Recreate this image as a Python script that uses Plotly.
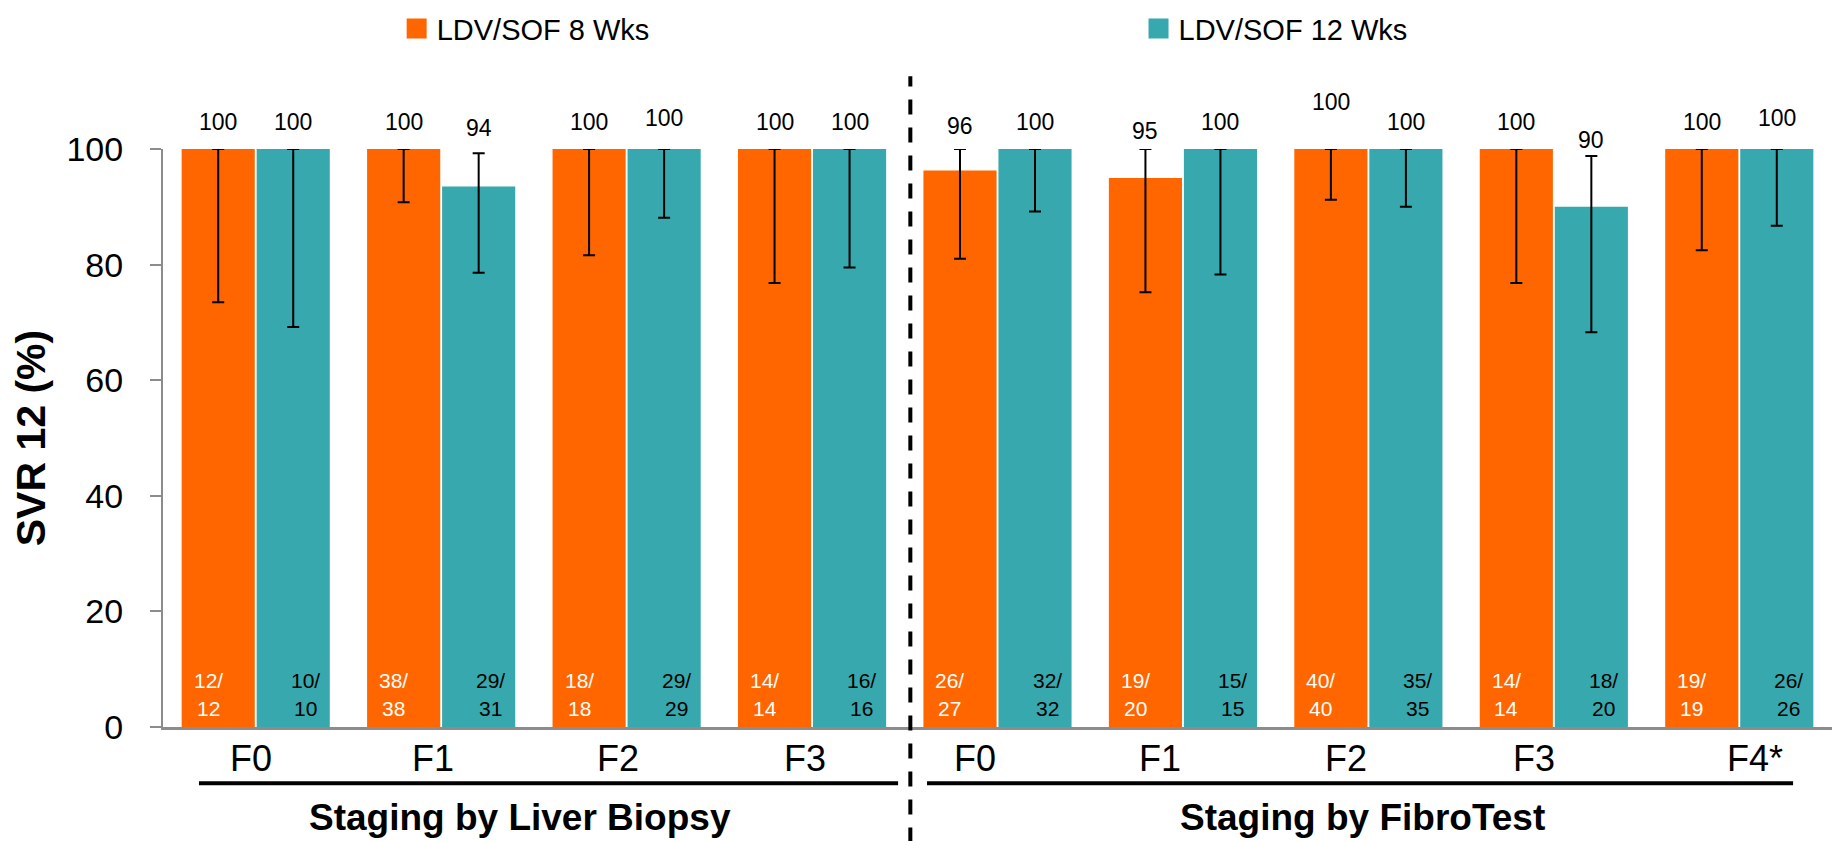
import plotly.graph_objects as go

# ---------------- data ----------------
categories = ["F0", "F1", "F2", "F3", "F0", "F1", "F2", "F3", "F4*"]
group_names = ["Staging by Liver Biopsy", "Staging by FibroTest"]
series_names = ["LDV/SOF 8 Wks", "LDV/SOF 12 Wks"]

svr_8wk = [100, 100, 100, 100, 96.3, 95.0, 100, 100, 100]
svr_12wk = [100, 93.5, 100, 100, 100, 100, 100, 90.0, 100]

value_text_8wk = ["100", "100", "100", "100", "96", "95", "100", "100", "100"]
value_text_12wk = ["100", "94", "100", "100", "100", "100", "100", "90", "100"]

ci_low_8wk = [73.5, 90.8, 81.6, 76.8, 81.0, 75.2, 91.2, 76.8, 82.5]
ci_high_8wk = [100, 100, 100, 100, 100, 100, 100, 100, 100]
ci_low_12wk = [69.2, 78.6, 88.1, 79.5, 89.2, 78.3, 90.0, 68.3, 86.7]
ci_high_12wk = [100, 99.25, 100, 100, 100, 100, 100, 98.8, 100]

n_8wk = [("12/", "12"), ("38/", "38"), ("18/", "18"), ("14/", "14"), ("26/", "27"),
         ("19/", "20"), ("40/", "40"), ("14/", "14"), ("19/", "19")]
n_12wk = [("10/", "10"), ("29/", "31"), ("29/", "29"), ("16/", "16"), ("32/", "32"),
          ("15/", "15"), ("35/", "35"), ("18/", "20"), ("26/", "26")]

y_ticks = [0, 20, 40, 60, 80, 100]

# ---------------- styling / placement (not data) ----------------
ORANGE = "#FF6600"
TEAL = "#37A8AD"
AXIS_GREY = "#8C8C8C"
REG = "Liberation Sans, Arial, sans-serif"

label_lift_8wk = [27, 27, 27, 27, 23, 18, 47, 27, 27]      # px above CI top
label_lift_12wk = [27, 25, 31, 27, 27, 27, 27, 16, 31]
cat_label_shift = [-5, -8, -9, -7, -23, -23, -22, -20, 16]  # px

x = list(range(len(categories)))

fig = go.Figure()

def err(vals, lo, hi):
    return dict(type="data", symmetric=False,
                array=[h - v for v, h in zip(vals, hi)],
                arrayminus=[v - l for v, l in zip(vals, lo)],
                color="black", thickness=2, width=6)

fig.add_trace(go.Bar(x=x, y=svr_8wk, name=series_names[0], marker_color=ORANGE,
                     marker_line_width=0, error_y=err(svr_8wk, ci_low_8wk, ci_high_8wk),
                     showlegend=False, legendgroup="a", cliponaxis=False, hoverinfo="y"))
fig.add_trace(go.Bar(x=x, y=svr_12wk, name=series_names[1], marker_color=TEAL,
                     marker_line_width=0, error_y=err(svr_12wk, ci_low_12wk, ci_high_12wk),
                     showlegend=False, legendgroup="b", cliponaxis=False, hoverinfo="y"))
# legend entries (square swatches), one legend box per series
for nm, col, grp, lg in [(series_names[0], ORANGE, "a", "legend"),
                         (series_names[1], TEAL, "b", "legend2")]:
    fig.add_trace(go.Scatter(x=[None], y=[None], mode="markers", name=nm, legendgroup=grp,
                             legend=lg,
                             marker=dict(symbol="square", size=16, color=col,
                                         line=dict(color=col, width=4))))

ann = []
bar_w_cat = 0.809 / 2  # width of one bar in category units
for i in range(len(categories)):
    xo = i - bar_w_cat / 2
    xt = i + bar_w_cat / 2
    ann.append(dict(x=xo, y=ci_high_8wk[i], text=value_text_8wk[i], showarrow=False,
                    yshift=label_lift_8wk[i], yanchor="middle",
                    font=dict(family=REG, size=23, color="black")))
    ann.append(dict(x=xt, y=ci_high_12wk[i], text=value_text_12wk[i], showarrow=False,
                    yshift=label_lift_12wk[i], yanchor="middle",
                    font=dict(family=REG, size=23, color="black")))
    # n/N labels inside bars
    ann.append(dict(x=xo, y=8.0, text=n_8wk[i][0], showarrow=False, xshift=-10, yanchor="middle",
                    font=dict(family=REG, size=21, color="white")))
    ann.append(dict(x=xo, y=3.2, text=n_8wk[i][1], showarrow=False, xshift=-10, yanchor="middle",
                    font=dict(family=REG, size=21, color="white")))
    ann.append(dict(x=xt, y=8.0, text=n_12wk[i][0], showarrow=False, xshift=12, yanchor="middle",
                    font=dict(family=REG, size=21, color="black")))
    ann.append(dict(x=xt, y=3.2, text=n_12wk[i][1], showarrow=False, xshift=12, yanchor="middle",
                    font=dict(family=REG, size=21, color="black")))
    # category labels
    ann.append(dict(x=i, y=-0.054, yref="paper", text=categories[i], showarrow=False,
                    xshift=cat_label_shift[i], yanchor="middle",
                    font=dict(family=REG, size=36, color="black")))

# group labels
ann.append(dict(x=1.425, y=-0.156, yref="paper", text="<b>%s</b>" % group_names[0],
                showarrow=False, yanchor="middle", font=dict(family=REG, size=37, color="black")))
ann.append(dict(x=5.967, y=-0.156, yref="paper", text="<b>%s</b>" % group_names[1],
                showarrow=False, yanchor="middle", font=dict(family=REG, size=37, color="black")))

shapes = [
    dict(type="line", xref="x", yref="paper", x0=3.53, x1=3.53, y0=-0.2, y1=1.126,
         line=dict(color="black", width=4, dash="15px,13px")),
    dict(type="line", xref="x", yref="paper", x0=-0.306, x1=3.464, y0=-0.0972, y1=-0.0972,
         line=dict(color="black", width=4)),
    dict(type="line", xref="x", yref="paper", x0=3.62, x1=8.29, y0=-0.0972, y1=-0.0972,
         line=dict(color="black", width=4)),
]

legend_style = dict(orientation="h", xanchor="left", yanchor="top", y=1.2525,
                    font=dict(family=REG, size=29, color="black"),
                    bgcolor="rgba(0,0,0,0)")

fig.update_layout(
    width=1835, height=841,
    margin=dict(l=163, r=3, t=149, b=114),
    paper_bgcolor="white", plot_bgcolor="white",
    barmode="group", bargap=0.191, bargroupgap=0.025,
    annotations=ann, shapes=shapes,
    legend=dict(x=0.140, **legend_style),
    legend2=dict(x=0.5845, **legend_style),
    xaxis=dict(range=[-0.5, 8.5], tickvals=x, showticklabels=False, ticks="",
               showline=True, linecolor=AXIS_GREY, linewidth=2.5, showgrid=False,
               zeroline=False, fixedrange=True),
    yaxis=dict(range=[0, 100], tickvals=y_ticks, ticks="outside", ticklen=11,
               tickcolor=AXIS_GREY, tickwidth=2, showline=True, linecolor=AXIS_GREY,
               linewidth=2, showgrid=False, zeroline=False, ticklabelstandoff=20,
               tickfont=dict(family=REG, size=34, color="black"),
               title=dict(text="<b>SVR 12 (%)</b>", standoff=8,
                          font=dict(family=REG, size=41, color="black"))),
    showlegend=True,
)

fig.write_html("out.html", config={"displayModeBar": False},
               post_script="document.body.style.margin='0';")
